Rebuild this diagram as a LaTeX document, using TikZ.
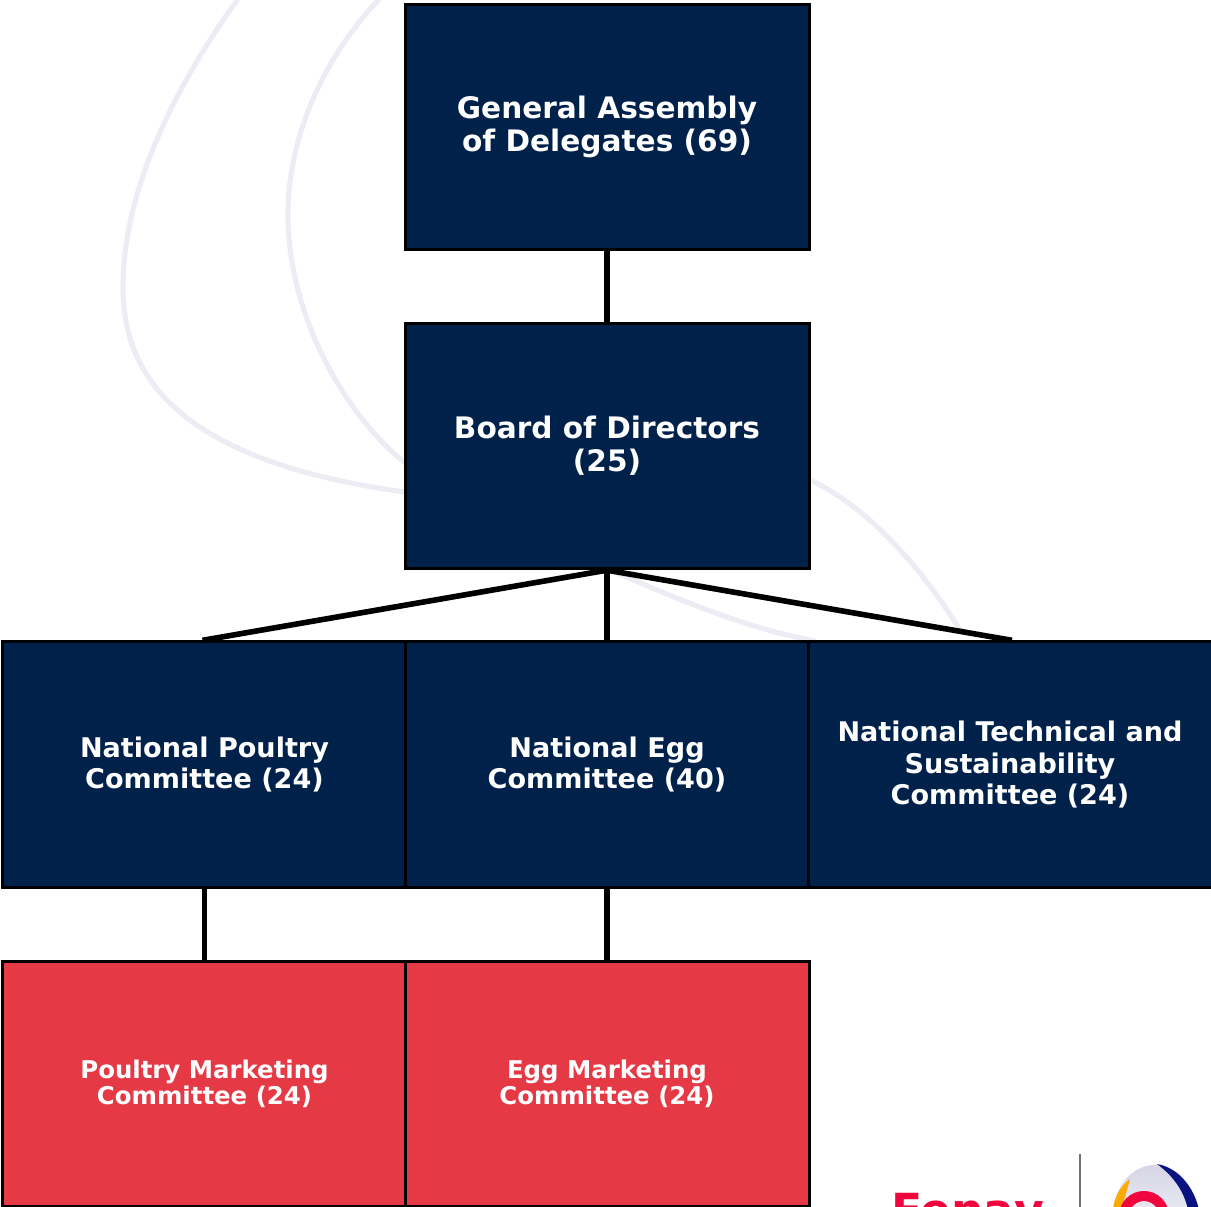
\documentclass[tikz,border=0pt]{standalone}
\usepackage{fontspec}
\setmainfont{DejaVu Sans}
\definecolor{navy}{HTML}{00224A}
\definecolor{redbox}{HTML}{E63946}
\definecolor{ribbon}{HTML}{ECECF5}
\definecolor{logoshade}{HTML}{D6D6E6}
\definecolor{fen}{HTML}{F0063C}
\definecolor{logoblue}{HTML}{0A1280}
\definecolor{logoyel}{HTML}{FBAA05}
\tikzset{
  box/.style={draw=black,line width=2.25pt,minimum width=303pt,minimum height=184pt,inner sep=0pt,align=center,text=white,font=\bfseries\fontsize{22.2pt}{24.8pt}\selectfont,fill=navy},
  midb/.style={box,font=\bfseries\fontsize{20.3pt}{23.6pt}\selectfont},
  redb/.style={box,fill=redbox,font=\bfseries\fontsize{18.3pt}{19.6pt}\selectfont},
  link/.style={draw=black,line width=4.2pt},
  faint/.style={draw=ribbon,line width=3.8pt},
}
\begin{document}
\begin{tikzpicture}[x=0.75pt,y=-0.75pt]
\useasboundingbox (0,0) rectangle (1211,1207);
\begin{scope}
\clip (0,0) rectangle (1211,1207);
\fill[white] (0,0) rectangle (1211,1207);
% background ribbons
\draw[faint] (240,-4) .. controls (165,100) and (123,200) .. (123,287) .. controls (123,370) and (170,460) .. (405,492);
\draw[faint] (382,-4) .. controls (325,55) and (288,135) .. (288,215) .. controls (288,310) and (340,410) .. (405,463);
\draw[faint] (810,480) .. controls (865,505) and (920,565) .. (960,630);
\draw[faint] (610,570) .. controls (680,600) and (745,628) .. (815,641);
% nodes
\node[box] (ga) at (607,127) {General Assembly\\of Delegates (69)};
\node[box] (bd) at (607,446) {Board of Directors\\(25)};
\node[midb] (np) at (204.5,764.5) {National Poultry\\Committee (24)};
\node[midb] (ne) at (607,764.5) {National Egg\\Committee (40)};
\node[midb] (nt) at (1010,764.5) {National Technical and\\Sustainability\\Committee (24)};
\node[redb] (pm) at (204.5,1084) {Poultry Marketing\\Committee (24)};
\node[redb] (em) at (607,1084) {Egg Marketing\\Committee (24)};
% connectors
\draw[link] (ga.south) -- (bd.north);
\draw[link] (bd.south) -- ([xshift=-1.5pt]np.north);
\draw[link] (bd.south) -- (ne.north);
\draw[link] (bd.south) -- ([xshift=1.5pt]nt.north);
\draw[link] (np.south) -- (pm.north);
\draw[link] (ne.south) -- (em.north);
% logo, cut by the picture edge
\node[anchor=base west,inner sep=0pt,text=fen,font=\bfseries\fontsize{34.2pt}{35pt}\selectfont] (fenavi) at (891,1226) {Fenav};
\coordinate (rulea) at (1080,1154);
\coordinate (ruleb) at (1080,1210);
\draw[draw=gray!90!black,line width=2.2pt] (rulea) -- (ruleb);
\shade[top color=logoshade,bottom color=white] (1155,1215) ellipse (42 and 50);
\fill[logoblue] (1157,1164) .. controls (1180,1168) and (1195,1190) .. (1199,1210) -- (1188,1210) .. controls (1184,1190) and (1172,1175) .. (1157,1164) -- cycle;
\fill[logoyel] (1130,1179) .. controls (1120,1186) and (1114,1198) .. (1113,1210) -- (1122,1210) .. controls (1124,1198) and (1128,1188) .. (1130,1179) -- cycle;
\draw[draw=fen,line width=7.5pt] (1144,1216) circle (20);
\end{scope}
\end{tikzpicture}
\end{document}
